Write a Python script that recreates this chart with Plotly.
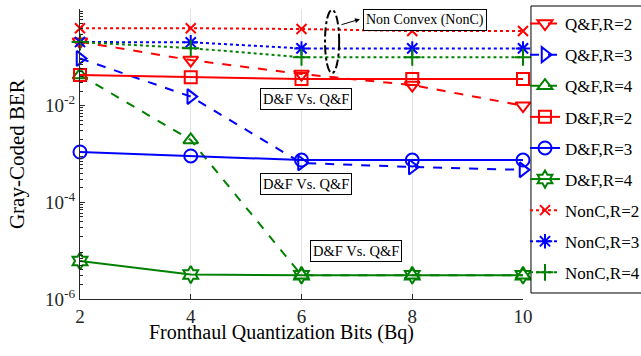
import plotly.graph_objects as go

bits = [2, 4, 6, 8, 10]

qf_r2 = [0.21, 0.088, 0.045, 0.0267, 0.010]
qf_r3 = [0.095, 0.0154, 6.5e-4, 5.4e-4, 4.7e-4]
qf_r4 = [0.043, 1.95e-3, 3.1e-6, 3.1e-6, 3.1e-6]
df_r2 = [0.043, 0.0386, 0.0356, 0.0356, 0.0356]
df_r3 = [1.1e-3, 9.1e-4, 7.5e-4, 7.5e-4, 7.5e-4]
df_r4 = [6.1e-6, 3.2e-6, 3.1e-6, 3.1e-6, 3.1e-6]
nc_r2 = [0.40, 0.40, 0.385, 0.35, 0.35]
nc_r3 = [0.207, 0.205, 0.153, 0.153, 0.153]
nc_r4 = [0.207, 0.155, 0.10, 0.10, 0.10]

names = ["Q&F,R=2", "Q&F,R=3", "Q&F,R=4", "D&F,R=2", "D&F,R=3", "D&F,R=4",
         "NonC,R=2", "NonC,R=3", "NonC,R=4"]
series = [qf_r2, qf_r3, qf_r4, df_r2, df_r3, df_r4, nc_r2, nc_r3, nc_r4]

RED, BLUE, GREEN = "#ff0000", "#0000ff", "#008000"
colors = [RED, BLUE, GREEN] * 3
dashes = ["dash"] * 3 + ["solid"] * 3 + ["dot"] * 3
symbols = ["triangle-down-open", "triangle-right-open", "triangle-up-open",
           "square-open", "circle-open", "hexagram-open",
           "x-thin", "asterisk", "cross-thin"]
sizes = [13, 13, 13, 12, 13, 13, 10, 12, 12]

y_tickvals = [1e-6, 1e-4, 1e-2, 1]
y_ticktext = ["10<sup>-6</sup>", "10<sup>-4</sup>", "10<sup>-2</sup>", "10<sup>0</sup>"]
minor_vals = [m * 10 ** e for e in range(-6, 0) for m in range(2, 10)]

FONT = "Liberation Serif, Times New Roman, serif"

fig = go.Figure()
for i, (nm, ys) in enumerate(zip(names, series)):
    fig.add_trace(go.Scatter(
        x=bits, y=ys, name=nm, mode="lines+markers", legendgroup=nm,
        cliponaxis=False,
        line=dict(color=colors[i], width=2, dash=dashes[i]),
        marker=dict(symbol=symbols[i], size=sizes[i], color=colors[i],
                    line=dict(color=colors[i], width=2)),
    ))

fig.update_layout(
    width=641, height=356,
    margin=dict(l=80, r=118, t=9, b=57, autoexpand=False),
    paper_bgcolor="white", plot_bgcolor="white",
    font=dict(family=FONT, color="#262626", size=18),
    showlegend=True,
    legend=dict(x=1.0045, xanchor="left", y=1.0103, yanchor="top",
                borderwidth=0, bgcolor="rgba(0,0,0,0)",
                font=dict(family=FONT, size=17, color="#000000"),
                tracegroupgap=6, itemwidth=30, maxheight=400),
    xaxis=dict(range=[2, 10], tickvals=bits, showgrid=True, gridcolor="#e3e3e3",
               gridwidth=1, zeroline=False, showline=True, linecolor="#262626",
               linewidth=1, ticks="inside", ticklen=5, tickcolor="#262626",
               tickfont=dict(size=19, family=FONT, color="#262626")),
    yaxis=dict(type="log", range=[-6, 0], tickvals=y_tickvals, ticktext=y_ticktext,
               showgrid=False, zeroline=False, showline=True, linecolor="#262626",
               linewidth=1, ticks="inside", ticklen=5, tickcolor="#262626",
               tickfont=dict(size=19, family=FONT, color="#262626"),
               minor=dict(tickvals=minor_vals, ticks="inside", ticklen=3,
                          tickcolor="#262626", showgrid=False)),
)

# legend frame (white box drawn above the data, legend text on top)
fig.add_shape(type="rect", xref="paper", yref="paper", layer="above",
              x0=1.018, x1=1.40, y0=0.0207, y1=1.0103,
              fillcolor="white", line=dict(color="#000000", width=1))

# axis titles
fig.add_annotation(text="Fronthaul Quantization Bits (Bq)", xref="paper", yref="paper",
                   x=0.454, y=-0.114, xanchor="center", yanchor="middle",
                   showarrow=False, font=dict(size=20, family=FONT, color="#000000"))
fig.add_annotation(text="Gray-Coded BER", xref="paper", yref="paper",
                   x=-0.142, y=0.5, xanchor="center", yanchor="middle", textangle=-90,
                   showarrow=False, font=dict(size=21, family=FONT, color="#000000"))

# comparison labels
box_font = dict(size=14.5, family=FONT, color="#000000")
for px, py in [(0.510, 0.690), (0.510, 0.397), (0.623, 0.166)]:
    fig.add_annotation(text="D&F Vs. Q&F", xref="paper", yref="paper", x=px, y=py,
                       xanchor="center", yanchor="middle", showarrow=False,
                       font=box_font, bgcolor="white", bordercolor="#000000",
                       borderwidth=1, borderpad=2)

fig.add_annotation(text="Non Convex (NonC)", xref="paper", yref="paper", x=0.779, y=0.962,
                   xanchor="center", yanchor="middle", showarrow=False,
                   font=dict(size=14, family=FONT, color="#000000"),
                   bgcolor="white", bordercolor="#000000", borderwidth=1, borderpad=2)

# ellipse + arrow
fig.add_shape(type="circle", xref="paper", yref="paper",
              x0=0.553, x1=0.585, y0=0.779, y1=0.997,
              line=dict(color="#000000", width=2, dash="dashdot"))
fig.add_annotation(xref="paper", yref="paper", x=0.632, y=0.965, ax=-20, ay=6,
                   axref="pixel", ayref="pixel", text="", showarrow=True,
                   arrowhead=2, arrowsize=1, arrowwidth=1, arrowcolor="#000000")

fig.write_html("out.html", config={"displayModeBar": False},
               post_script="document.body.style.margin='0';")
